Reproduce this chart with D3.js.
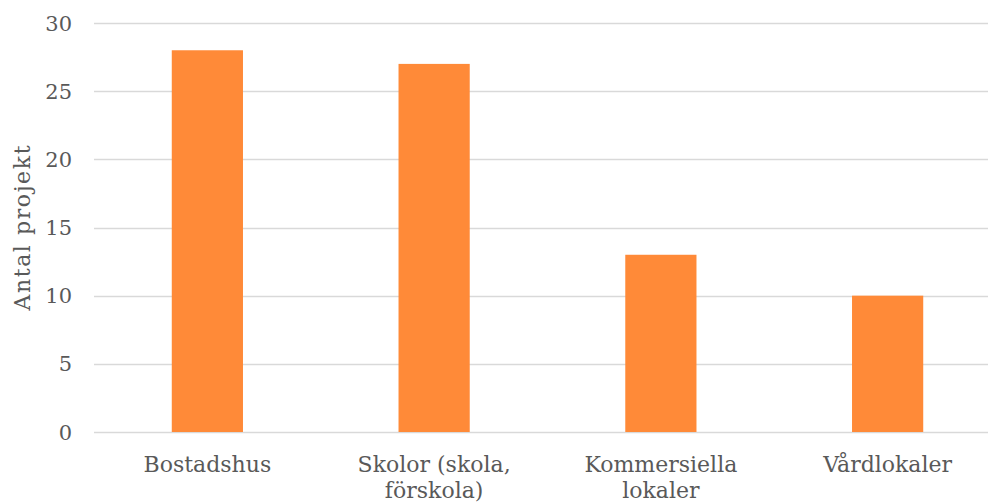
<!DOCTYPE html>
<html>
<head>
<meta charset="utf-8">
<script src="https://cdn.jsdelivr.net/npm/d3@7"></script>
<style>
  html, body { margin: 0; padding: 0; background: #fff; }
  svg text { font-family: "DejaVu Serif", serif; fill: #595959; }
</style>
</head>
<body>
<svg id="chart" width="988" height="504"></svg>
<script>
// Antal projekt per byggnadstyp
const categories = [["Bostadshus"], ["Skolor (skola,", "förskola)"], ["Kommersiella", "lokaler"], ["Vårdlokaler"]];
const values = [28, 27, 13, 10];
const yTicks = [0, 5, 10, 15, 20, 25, 30];

const svg = d3.select("#chart");
const W = 988, H = 504;
const plot = { left: 94, right: 1001, top: 23, bottom: 432 };

const keys = categories.map(c => c.join(" "));
const x = d3.scaleBand().domain(keys).range([plot.left, plot.right]).paddingInner(0.686).paddingOuter(0.343);
const y = d3.scaleLinear().domain([0, 30]).range([plot.bottom, plot.top]);

// horizontal gridlines
svg.append("g")
  .selectAll("line")
  .data(yTicks)
  .join("line")
  .attr("x1", plot.left).attr("x2", W)
  .attr("y1", d => Math.round(y(d)) + 0.5).attr("y2", d => Math.round(y(d)) + 0.5)
  .attr("stroke", "#d9d9d9").attr("stroke-width", 1.3);

// y tick labels
svg.append("g")
  .selectAll("text")
  .data(yTicks)
  .join("text")
  .attr("x", 72).attr("y", d => y(d))
  .attr("dy", "0.36em")
  .attr("text-anchor", "end")
  .style("font-size", "21px")
  .text(d => d);

// bars
svg.append("g")
  .selectAll("rect")
  .data(values)
  .join("rect")
  .attr("x", (d, i) => x(keys[i]))
  .attr("width", x.bandwidth())
  .attr("y", d => y(d))
  .attr("height", d => y(0) - y(d))
  .attr("fill", "#ff8a38");

// category labels (possibly two lines)
const lbl = svg.append("g")
  .selectAll("text")
  .data(categories)
  .join("text")
  .attr("text-anchor", "middle")
  .attr("x", (d, i) => x(keys[i]) + x.bandwidth() / 2)
  .attr("y", 472)
  .style("font-size", "22px");
lbl.selectAll("tspan")
  .data(d => d)
  .join("tspan")
  .attr("x", function() { return this.parentNode.getAttribute("x"); })
  .attr("dy", (d, i) => i === 0 ? 0 : 26)
  .text(d => d);

// y axis title
svg.append("text")
  .attr("transform", `translate(30, 228) rotate(-90)`)
  .attr("text-anchor", "middle")
  .attr("textLength", 165)
  .attr("lengthAdjust", "spacing")
  .style("font-size", "22px")
  .text("Antal projekt");
</script>
</body>
</html>
